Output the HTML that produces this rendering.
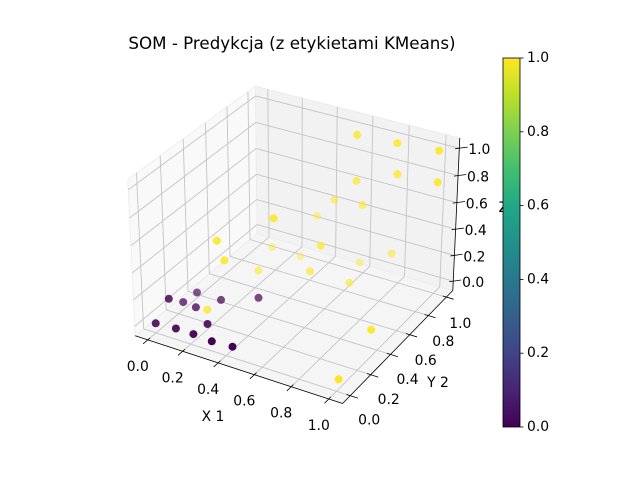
<!DOCTYPE html>
<html><head><meta charset="utf-8"><style>
html,body{margin:0;padding:0;background:#fff;}
svg{display:block;font-family:"DejaVu Sans","Liberation Sans",sans-serif;}
</style></head><body>
<svg id="chart" width="640" height="480" viewBox="0 0 640 480" xmlns="http://www.w3.org/2000/svg">
<defs>
<linearGradient id="viridis" x1="0" y1="1" x2="0" y2="0">
<stop offset="0" stop-color="#440154"/><stop offset="0.1" stop-color="#482475"/><stop offset="0.2" stop-color="#414487"/><stop offset="0.3" stop-color="#355f8d"/><stop offset="0.4" stop-color="#2a788e"/><stop offset="0.5" stop-color="#21918c"/><stop offset="0.6" stop-color="#22a884"/><stop offset="0.7" stop-color="#44bf70"/><stop offset="0.8" stop-color="#7ad151"/><stop offset="0.9" stop-color="#bddf26"/><stop offset="1" stop-color="#fde725"/>
</linearGradient>
</defs>
<text x="292" y="49" font-size="16.7" text-anchor="middle" fill="#000">SOM - Predykcja (z etykietami KMeans)</text>
<g id="axes3d"></g>
<text x="510" y="212" font-size="13.9" text-anchor="middle">Z 3</text>
<g id="cbar"></g>
</svg>
<script>
// data (x, y, z, cluster label)
const xs = [0.58,0.79,1.0,0.58,0.78,1.0,0.43,0.59,0.33,0.37,0.17,0.18,0.52,0.21,0.29,0.58,0.76,0.22,0.46,0.63,0.93,0.15,1.0,
            0.02,0.0,0.01,0.16,0.31,0.09,0.22,
            0.0,0.11,0.21,0.32,0.43];
const ys = [0.95,0.97,1.0,0.95,1.0,1.0,1.0,1.0,1.0,0.5,0.3,0.8,0.7,0.3,0.9,1.0,1.0,0.6,0.7,0.8,0.47,0.23,0.02,
            0.34,0.12,0.23,0.34,0.45,0.22,0.12,
            0.0,0.01,0.01,0.0,0.01];
const zs = [1.0,1.0,1.0,0.66,0.75,0.77,0.43,0.45,0.27,0.59,0.48,0.1,0.31,0.35,0.0,0.0,0.14,0.07,0.09,0.0,0.0,0.0,0.0,
            0.0,0.1,0.0,0.0,0.0,0.0,0.0,
            0.0,0.0,0.0,0.0,0.0];
const labels = [1,1,1,1,1,1,1,1,1,1,1,1,1,1,1,1,1,1,1,1,1,1,1,
                0,0,0,0,0,0,0,
                0,0,0,0,0];
const ticks = [0,0.2,0.4,0.6,0.8,1.0];
const tickLabels = ["0.0","0.2","0.4","0.6","0.8","1.0"];
const cbarTicks = [0,0.2,0.4,0.6,0.8,1.0];

const NS="http://www.w3.org/2000/svg";
const g=document.getElementById('axes3d');
const LO=-0.05, HI=1.05, PLO=-0.0729, PHI=1.0729;
const A=[1.1428,1.1428,0.857];
const eye=[A[0]/2+10*0.433, A[1]/2-10*0.75, A[2]/2+10*0.5];
const u=[0.866,0.5,0], v=[-0.25,0.433,0.866], w=[0.433,-0.75,0.5];
function raw(x,y,z){
  const p=[(x-LO)/(HI-LO)*A[0]-eye[0],(y-LO)/(HI-LO)*A[1]-eye[1],(z-LO)/(HI-LO)*A[2]-eye[2]];
  const xv=p[0]*u[0]+p[1]*u[1]+p[2]*u[2];
  const yv=p[0]*v[0]+p[1]*v[1]+p[2]*v[2];
  const zv=p[0]*w[0]+p[1]*w[1]+p[2]*w[2];
  return [xv/(-zv), yv/(-zv), -zv];
}
const a0=raw(0,0,0), a1=raw(1,1,1);
const SX=(439-155.7)/(a1[0]-a0[0]), TX=155.7-SX*a0[0];
const SY=(150.7-323.3)/(a1[1]-a0[1]), TY=323.3-SY*a0[1];
function proj(x,y,z){const r=raw(x,y,z);return [SX*r[0]+TX, SY*r[1]+TY, r[2]];}
function el(tag,attrs,parent){const e=document.createElementNS(NS,tag);for(const k in attrs)e.setAttribute(k,attrs[k]);(parent||g).appendChild(e);return e;}
function poly(pts,fill,name){
  const e=el('polygon',{points:pts.map(p=>p[0].toFixed(1)+','+p[1].toFixed(1)).join(' '),fill:fill,stroke:'#ebebeb','stroke-width':0.8});
  
  
}
function line(p,q,stroke,sw,name){
  const e=el('line',{x1:p[0],y1:p[1],x2:q[0],y2:q[1],stroke:stroke,'stroke-width':sw});
  
  
  return e;
}
// panes
poly([proj(PLO,PLO,PLO),proj(PLO,PHI,PLO),proj(PLO,PHI,PHI),proj(PLO,PLO,PHI)],'#f9f9f9','pane-x');
poly([proj(PLO,PHI,PLO),proj(PHI,PHI,PLO),proj(PHI,PHI,PHI),proj(PLO,PHI,PHI)],'#f2f2f2','pane-y');
poly([proj(PLO,PLO,PLO),proj(PHI,PLO,PLO),proj(PHI,PHI,PLO),proj(PLO,PHI,PLO)],'#f5f5f5','pane-floor');
// grid
const GC='#c4c4c4';
ticks.forEach(t=>{
  line(proj(PLO,t,PLO),proj(PLO,t,PHI),GC,0.9,'grid-line-y');
  line(proj(PLO,PLO,t),proj(PLO,PHI,t),GC,0.9,'grid-line-z');
  line(proj(t,PHI,PLO),proj(t,PHI,PHI),GC,0.9,'grid-line-x');
  line(proj(PLO,PHI,t),proj(PHI,PHI,t),GC,0.9,'grid-line-z');
  line(proj(t,PLO,PLO),proj(t,PHI,PLO),GC,0.9,'grid-line-x');
  line(proj(PLO,t,PLO),proj(PHI,t,PLO),GC,0.9,'grid-line-y');
});
// axis lines
line(proj(PLO,PLO,PLO),proj(PHI,PLO,PLO),'#000',0.8,'x-axis-line');
line(proj(PHI,PLO,PLO),proj(PHI,PHI,PLO),'#000',0.8,'y-axis-line');
line(proj(PHI,PHI,PLO),proj(PHI,PHI,PHI),'#000',0.8,'z-axis-line');
// ticks and labels
function txt(x,y,s,name,anchor){
  const e=el('text',{x:x,y:y,'font-size':13.9,'text-anchor':anchor||'middle','dominant-baseline':'central',fill:'#000'});
  e.textContent=s;
  
  
}
ticks.forEach((t,i)=>{
  const p=proj(t,PLO,PLO), q=proj(t,PLO-0.04,PLO), r=proj(t,PLO+0.02,PLO);
  line(r,q,'#000',0.8,'x-tick');
  txt(p[0]-10,p[1]+27,tickLabels[i],'x-tick-label');
  const py=proj(PHI,t,PLO), qy=proj(PHI+0.04,t,PLO), ry=proj(PHI-0.02,t,PLO);
  line(ry,qy,'#000',0.8,'y-tick');
  txt(py[0]+19-5*t,py[1]+25+2*t,tickLabels[i],'y-tick-label');
  const pz=proj(PHI,PHI,t), qz=proj(PHI+0.03,PHI+0.03,t), rz=proj(PHI-0.015,PHI-0.015,t);
  line(rz,qz,'#000',0.8,'z-tick');
  txt(pz[0]+20,pz[1]+2,tickLabels[i],'z-tick-label');
});
txt(213,417,'X 1','x-axis-title');
txt(438,383,'Y 2','y-axis-title');
// points
const pts=xs.map((x,i)=>{const p=proj(x,ys[i],zs[i]);return {p:p,c:labels[i]?'#fde725':'#440154'};});
const ds=pts.map(o=>o.p[2]); const dmin=Math.min(...ds), dmax=Math.max(...ds);
pts.slice().sort((a,b)=>b.p[2]-a.p[2]).forEach(o=>{
  const alpha=Math.min(1,Math.max(0.4,1.25-0.85*(o.p[2]-dmin)/(dmax-dmin)));
  const c=el('circle',{cx:o.p[0].toFixed(1),cy:o.p[1].toFixed(1),r:4,fill:o.c,'fill-opacity':alpha});
  
  
});
// colorbar
const cb=document.getElementById('cbar');
const CB_X=503, CB_W=17, CB_TOP=58, CB_BOT=427;
const cbv=v=>CB_BOT-(CB_BOT-CB_TOP)*v;
const rect=el('rect',{x:CB_X,y:CB_TOP,width:CB_W,height:CB_BOT-CB_TOP,fill:'url(#viridis)',stroke:'#000','stroke-width':0.8},cb);


cbarTicks.forEach(t=>{
  const y=cbv(t);
  const l=el('line',{x1:CB_X+CB_W,y1:y,x2:CB_X+CB_W+3.5,y2:y,stroke:'#000','stroke-width':0.8},cb);
  
  
  const e=el('text',{x:CB_X+CB_W+7,y:y,'font-size':13.9,'dominant-baseline':'central'},cb);
  e.textContent=t.toFixed(1);
  
  
});
</script>
</body></html>
